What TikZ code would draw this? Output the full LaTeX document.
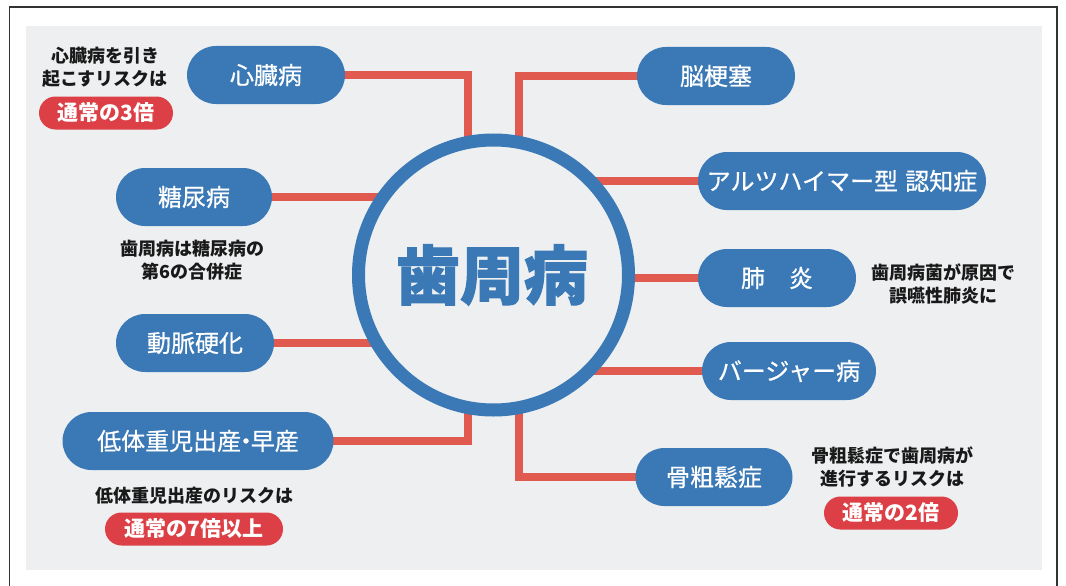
\documentclass[tikz,border=0pt]{standalone}
\usepackage{fontspec}
\newfontfamily\jp{Noto Sans CJK JP}
\newfontfamily\jpm[FakeBold=0.7]{Noto Sans CJK JP}
\newfontfamily\jph[BoldFeatures={FakeBold=1.6}]{Noto Sans CJK JP}
\usetikzlibrary{shapes.misc}
\definecolor{pillblue}{HTML}{3A79B5}
\definecolor{linered}{HTML}{E05A50}
\definecolor{pillred}{HTML}{DC4046}
\definecolor{panel}{HTML}{EDEFF1}
\pgfdeclarelayer{bg}
\pgfdeclarelayer{lines}
\pgfsetlayers{bg,lines,main}
\begin{document}
\begin{tikzpicture}[x=1pt,y=-1pt,
 pill/.style={rounded rectangle, fill=pillblue, text=white, minimum height=58pt, inner sep=0pt, font=\jpm\fontsize{24}{24}\selectfont},
 redpill/.style={rounded rectangle, fill=pillred, text=white, minimum height=33pt, inner sep=0pt, font=\jp\bfseries\fontsize{21}{21}\selectfont},
 note/.style={align=center, font=\jp\bfseries\fontsize{18}{23}\selectfont, text=black!90, inner sep=0pt},
 conn/.style={draw=linered, line width=7.5pt}]
\useasboundingbox (0,0) rectangle (1066,586);
\begin{pgfonlayer}{bg}
\fill[white] (0,0) rectangle (1066,586);
\fill[panel] (26,26.5) rectangle (1042,570);
\draw[line width=1.5pt, black!80] (9.5,586) -- (9.5,7) -- (1057,7) -- (1057,586);
\end{pgfonlayer}

% center
\node[circle, draw=pillblue, line width=13pt, fill=panel, minimum size=270pt, inner sep=0pt] (c) at (493.5,275) {};
\node[font=\jph\bfseries\fontsize{64}{64}\selectfont, text=pillblue] (title) at (492,275) {歯周病};
\coordinate (hl) at (468,275);
\coordinate (hr) at (519,275);

% pills
\node[pill, minimum width=158pt] (heart) at (266,75) {心臓病};
\node[pill, minimum width=158pt] (brain) at (716,76) {脳梗塞};
\node[pill, minimum width=156pt] (diab) at (194,197) {糖尿病};
\node[pill, minimum width=288pt] (alz) at (842,181) {アルツハイマー型\hspace{0.3em}認知症};
\node[pill, minimum width=158pt] (lung) at (777,278) {肺\hspace{1em}炎};
\node[pill, minimum width=158pt] (artery) at (195,343) {動脈硬化};
\node[pill, minimum width=174pt] (berger) at (789,371) {バージャー病};
\node[pill, minimum width=271pt] (lbw) at (198,441) {低体重児出産\kern-0.3em・\kern-0.3em早産};
\node[pill, minimum width=157pt] (bone) at (714,477) {骨粗鬆症};

% red pills
\node[redpill, minimum width=134pt] (r3) at (106,113) {通常の3倍};
\node[redpill, minimum width=178pt] (r7) at (194,529) {通常の7倍以上};
\node[redpill, minimum width=134pt] (r2) at (891,513) {通常の2倍};

% notes
\node[note] (n1) at (105,67) {心臓病を引き\\起こすリスクは};
\node[note] (n2) at (192,260) {歯周病は糖尿病の\\第6の合併症};
\node[note] (n3) at (943,284) {歯周病菌が原因で\\誤嚥性肺炎に};
\node[note] (n4) at (194,496) {低体重児出産のリスクは};
\node[note] (n5) at (892,467) {骨粗鬆症で歯周病が\\進行するリスクは};

% connectors
\begin{pgfonlayer}{lines}
\draw[conn] (heart.center) -| (hl);
\draw[conn] (brain.center) -| (hr);
\draw[conn] (lbw.center) -| (hl);
\draw[conn] (bone.center) -| (hr);
\draw[conn] (diab.center) -- (diab.center -| c.center);
\draw[conn] (artery.center) -- (artery.center -| c.center);
\draw[conn] (alz.center) -- (alz.center -| c.center);
\draw[conn] (lung.center) -- (lung.center -| c.center);
\draw[conn] (berger.center) -- (berger.center -| c.center);
\end{pgfonlayer}
\end{tikzpicture}
\end{document}
